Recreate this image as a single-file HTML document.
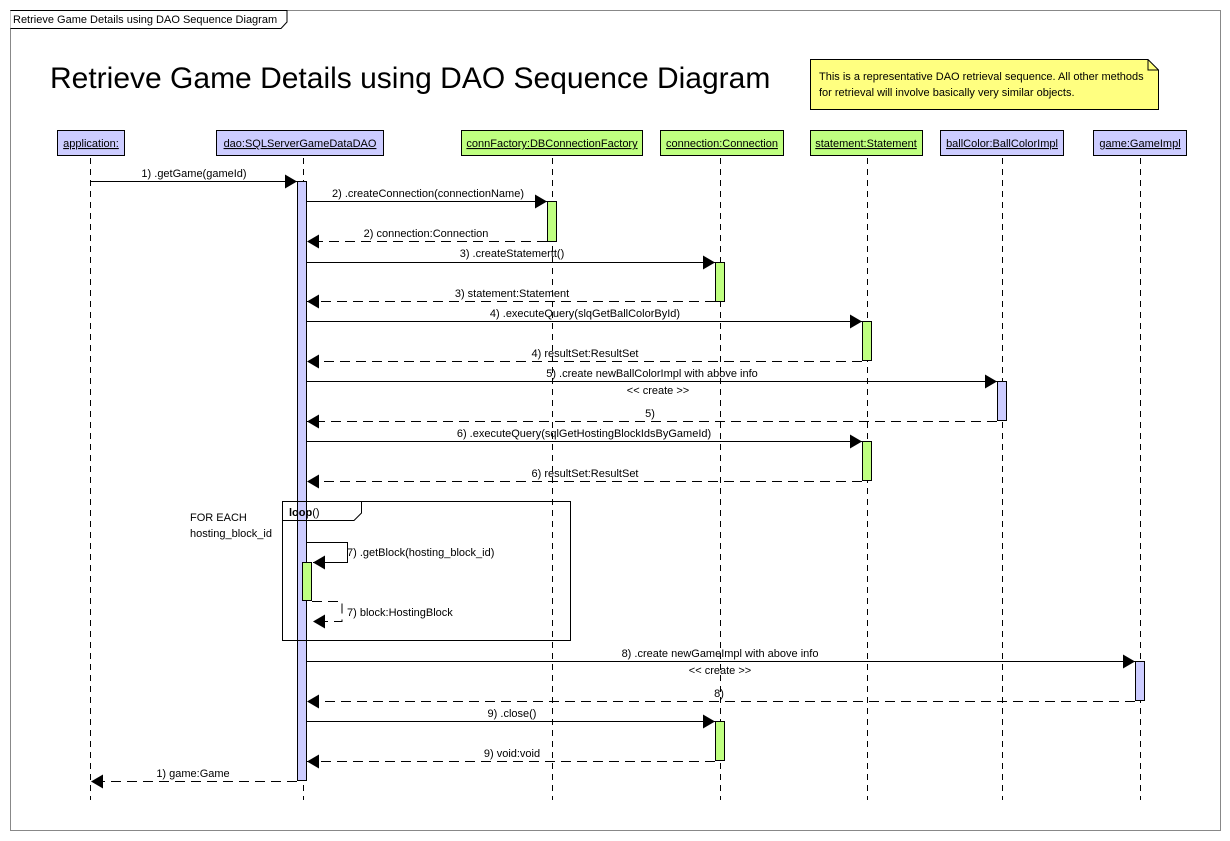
<!DOCTYPE html>
<html><head><meta charset="utf-8"><style>
html,body{margin:0;padding:0;background:#fff;}
svg{display:block;font-family:"Liberation Sans",sans-serif;}
</style></head><body>
<svg width="1230" height="841" viewBox="0 0 1230 841" xmlns="http://www.w3.org/2000/svg">
<defs>
<marker id="ah" markerWidth="12" markerHeight="14" refX="12" refY="7" orient="auto" markerUnits="userSpaceOnUse"><path d="M0,0 L12,7 L0,14 Z" fill="#000"/></marker>
</defs>
<rect x="10.5" y="10.5" width="1210" height="820" fill="#fff" stroke="#888" stroke-width="1"/>
<path d="M10.5,10.5 H287 V22 L281,28.5 H10.5" fill="#fff" stroke="#000"/>
<text x="13" y="23" font-size="11">Retrieve Game Details using DAO Sequence Diagram</text>
<text x="50" y="88" font-size="30">Retrieve Game Details using DAO Sequence Diagram</text>
<path d="M810.5,59.5 H1148 L1158.5,70 V109.5 H810.5 Z" fill="#ffff80" stroke="#000"/>
<path d="M1148,59.5 V70 H1158.5" fill="none" stroke="#000"/>
<text x="819" y="80" font-size="11">This is a representative DAO retrieval sequence. All other methods</text>
<text x="819" y="96" font-size="11">for retrieval will involve basically very similar objects.</text>

<g stroke="#000" stroke-dasharray="6,5" stroke-width="1">
<line x1="90.5" y1="158" x2="90.5" y2="800"/>
<line x1="303.5" y1="158" x2="303.5" y2="800"/>
<line x1="552.5" y1="158" x2="552.5" y2="800"/>
<line x1="720.5" y1="158" x2="720.5" y2="800"/>
<line x1="867.5" y1="158" x2="867.5" y2="800"/>
<line x1="1002.5" y1="158" x2="1002.5" y2="800"/>
<line x1="1140.5" y1="158" x2="1140.5" y2="800"/>
</g>

<g stroke="#000" font-size="11" text-anchor="middle">
<rect x="57.5" y="130.5" width="67" height="25" fill="#ccccff"/>
<rect x="216.5" y="130.5" width="167" height="25" fill="#ccccff"/>
<rect x="461.5" y="130.5" width="181" height="25" fill="#bfff80"/>
<rect x="660.5" y="130.5" width="123" height="25" fill="#bfff80"/>
<rect x="810.5" y="130.5" width="112" height="25" fill="#bfff80"/>
<rect x="940.5" y="130.5" width="123" height="25" fill="#ccccff"/>
<rect x="1093.5" y="130.5" width="93" height="25" fill="#ccccff"/>
</g>
<g font-size="11" text-anchor="middle" text-decoration="underline">
<text x="91" y="147">application:</text>
<text x="300" y="147">dao:SQLServerGameDataDAO</text>
<text x="552" y="147">connFactory:DBConnectionFactory</text>
<text x="722" y="147">connection:Connection</text>
<text x="866" y="147">statement:Statement</text>
<text x="1002" y="147">ballColor:BallColorImpl</text>
<text x="1140" y="147">game:GameImpl</text>
</g>

<text x="190" y="521" font-size="11">FOR EACH</text>
<text x="190" y="537" font-size="11">hosting_block_id</text>

<!-- activations -->
<g stroke="#000">
<rect x="297.5" y="181.5" width="9" height="599" fill="#ccccff"/>
<rect x="547.5" y="201.5" width="9" height="40" fill="#bfff80"/>
<rect x="715.5" y="262.5" width="9" height="39" fill="#bfff80"/>
<rect x="862.5" y="321.5" width="9" height="39" fill="#bfff80"/>
<rect x="997.5" y="381.5" width="9" height="39" fill="#ccccff"/>
<rect x="862.5" y="441.5" width="9" height="39" fill="#bfff80"/>
<rect x="302.5" y="562.5" width="9" height="38" fill="#bfff80"/>
<rect x="1135.5" y="661.5" width="9" height="39" fill="#ccccff"/>
<rect x="715.5" y="721.5" width="9" height="39" fill="#bfff80"/>
</g>

<!-- loop frame -->
<rect x="282.5" y="501.5" width="288" height="139" fill="none" stroke="#000"/>
<path d="M282.5,520.5 H354 L361.5,513 V501.5" fill="none" stroke="#000"/>
<text x="289" y="516" font-size="11"><tspan font-weight="bold">loop</tspan>()</text>

<!-- messages -->
<g stroke="#000" fill="none" marker-end="url(#ah)">
<line x1="90" y1="181.5" x2="297" y2="181.5"/>
<line x1="307" y1="201.5" x2="547" y2="201.5"/>
<line x1="307" y1="262.5" x2="715" y2="262.5"/>
<line x1="307" y1="321.5" x2="862" y2="321.5"/>
<line x1="307" y1="381.5" x2="997" y2="381.5"/>
<line x1="307" y1="441.5" x2="862" y2="441.5"/>
<path d="M307,542.5 H347.5 V562.5 H313"/>
<line x1="307" y1="661.5" x2="1135" y2="661.5"/>
<line x1="307" y1="721.5" x2="715" y2="721.5"/>
</g>
<g stroke="#000" fill="none" stroke-dasharray="10,6" marker-end="url(#ah)">
<line x1="547" y1="241.5" x2="307" y2="241.5"/>
<line x1="715" y1="301.5" x2="307" y2="301.5"/>
<line x1="862" y1="361.5" x2="307" y2="361.5"/>
<line x1="997" y1="421.5" x2="307" y2="421.5"/>
<line x1="862" y1="481.5" x2="307" y2="481.5"/>
<path d="M312,601.5 H342 V621.5 H313"/>
<line x1="1135" y1="701.5" x2="307" y2="701.5"/>
<line x1="715" y1="761.5" x2="307" y2="761.5"/>
<line x1="297" y1="781.5" x2="91" y2="781.5"/>
</g>

<g font-size="11" text-anchor="middle">
<text x="194" y="177">1) .getGame(gameId)</text>
<text x="428" y="197">2) .createConnection(connectionName)</text>
<text x="426" y="237">2) connection:Connection</text>
<text x="512" y="257">3) .createStatemertt()</text>
<text x="512" y="297">3) statement:Statement</text>
<text x="585" y="317">4) .executeQuery(slqGetBallColorById)</text>
<text x="585" y="357">4) resultSet:ResultSet</text>
<text x="652" y="377">5) .create newBallColorImpl with above info</text>
<text x="658" y="394">&lt;&lt; create &gt;&gt;</text>
<text x="650" y="417">5)</text>
<text x="584" y="437">6) .executeQuery(sqlGetHostingBlockIdsByGameId)</text>
<text x="585" y="477">6) resultSet:ResultSet</text>
<text x="720" y="657">8) .create newGameImpl with above info</text>
<text x="720" y="674">&lt;&lt; create &gt;&gt;</text>
<text x="719" y="697">8)</text>
<text x="512" y="717">9) .close()</text>
<text x="512" y="757">9) void:void</text>
<text x="193" y="777">1) game:Game</text>
</g>
<text x="347" y="556" font-size="11">7) .getBlock(hosting_block_id)</text>
<text x="347" y="616" font-size="11">7) block:HostingBlock</text>
</svg>
</body></html>
